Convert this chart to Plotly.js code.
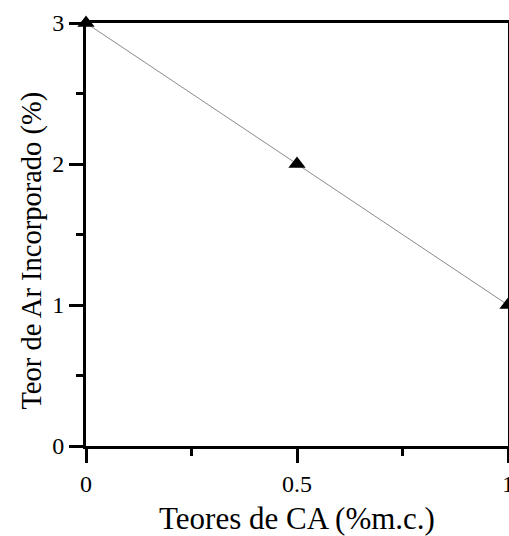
<!DOCTYPE html>
<html>
<head>
<meta charset="utf-8">
<script src="https://cdn.plot.ly/plotly-3.0.1.min.js"></script>
<style>html,body{margin:0;padding:0;background:#fff;}#chart{width:509px;height:536px;}</style>
</head>
<body>
<div id="chart"></div>
<script>
const teoresCA = [0, 0.5, 1];
const teorAr = [3, 2, 1];
const xTickVals = [0, 0.5, 1];
const xTickText = ["0", "0.5", "1"];
const yTickVals = [0, 1, 2, 3];
const yTickText = ["0", "1", "2", "3"];
const xTitle = "Teores de CA (%m.c.)";
const yTitle = "Teor de Ar Incorporado (%)";

const font = "Liberation Serif, Times New Roman, serif";

const trace = {
  x: teoresCA, y: teorAr, type: "scatter", mode: "lines+markers",
  line: {color: "#8a8a8a", width: 1},
  marker: {symbol: "triangle-up", size: 15, color: "black"},
  cliponaxis: false
};

const axisCommon = {
  showline: true, linecolor: "black", linewidth: 3, mirror: true,
  ticks: "outside", ticklen: 14, tickwidth: 3, tickcolor: "black",
  showgrid: false, zeroline: false, ticklabeloverflow: "allow",
  tickfont: {family: font, size: 24, color: "black"}
};

const layout = {
  width: 509, height: 536,
  margin: {l: 86, r: 1, t: 23, b: 90},
  paper_bgcolor: "white", plot_bgcolor: "white",
  showlegend: false,
  xaxis: Object.assign({}, axisCommon, {
    range: [0, 1], tickmode: "array", tickvals: xTickVals, ticktext: xTickText,
    minor: {dtick: 0.25, ticks: "outside", ticklen: 7, tickwidth: 3, tickcolor: "black", showgrid: false},
    title: {text: xTitle, font: {family: font, size: 31, color: "black"}, standoff: 12}
  }),
  yaxis: Object.assign({}, axisCommon, {
    range: [0, 3], tickmode: "array", tickvals: yTickVals, ticktext: yTickText,
    minor: {dtick: 0.5, ticks: "outside", ticklen: 7, tickwidth: 3, tickcolor: "black", showgrid: false}
  }),
  annotations: [{
    text: yTitle, xref: "paper", yref: "paper", x: -0.128, y: 0.462,
    xanchor: "center", yanchor: "middle", textangle: -90, showarrow: false,
    font: {family: font, size: 28.5, color: "black"}
  }]
};

Plotly.newPlot("chart", [trace], layout, {staticPlot: true, displayModeBar: false});
</script>
</body>
</html>
